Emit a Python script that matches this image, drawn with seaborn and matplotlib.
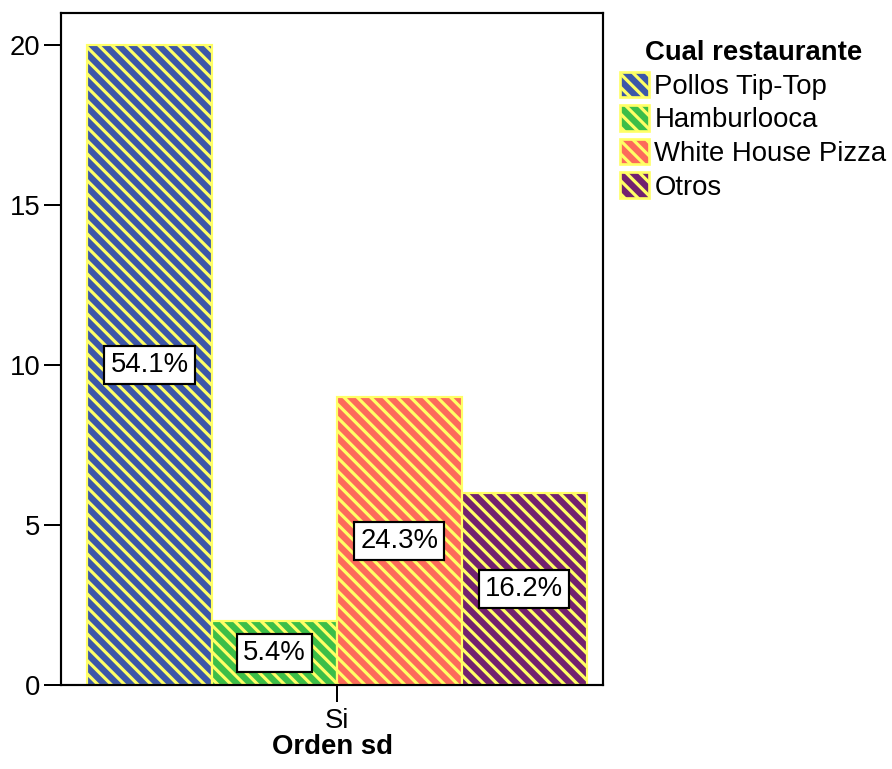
import pandas as pd
import matplotlib
matplotlib.use("Agg")
import matplotlib.pyplot as plt
import seaborn as sns
from matplotlib.patches import Patch

restaurantes = ["Pollos Tip-Top", "Hamburlooca", "White House Pizza", "Otros"]
conteos = [20, 2, 9, 6]
porcentajes = ["54.1%", "5.4%", "24.3%", "16.2%"]
colores = ["#3D57A9", "#3CBE48", "#FC6A5B", "#72216F"]
amarillo = "#FFFF66"
rayas = chr(92) * 3  # backslashes -> denser diagonal hatch

df = pd.DataFrame({"Orden sd": ["Si"] * 4,
                   "Cual restaurante": restaurantes,
                   "Conteo": conteos})

sns.set_style("white")
plt.rcParams["font.family"] = ["Liberation Sans", "DejaVu Sans"]
plt.rcParams["text.color"] = "black"
plt.rcParams["axes.labelcolor"] = "black"
plt.rcParams["xtick.color"] = "black"
plt.rcParams["ytick.color"] = "black"
plt.rcParams["hatch.color"] = amarillo
plt.rcParams["hatch.linewidth"] = 1.9

fig = plt.figure(figsize=(892 / 120, 769 / 120), dpi=120)
ax = fig.add_axes([61 / 892, 1 - 685 / 769, (603 - 61) / 892, (685 - 13) / 769])

sns.barplot(data=df, x="Orden sd", y="Conteo", hue="Cual restaurante",
            hue_order=restaurantes, palette=colores, saturation=1,
            width=0.8, legend=False, ax=ax)

for patch in ax.patches:
    patch.set_hatch(rayas)
    patch.set_edgecolor(amarillo)
    patch.set_linewidth(1.3)

for cont, txt in zip(ax.containers, porcentajes):
    ax.bar_label(cont, labels=[txt], label_type="center", fontsize=16.5,
                 bbox=dict(boxstyle="square,pad=0.22", fc="white", ec="black", lw=1.3))

ax.set_ylim(0, 21)
ax.set_xlim(-0.4417, 0.4263)
ax.set_yticks([0, 5, 10, 15, 20])
ax.set_ylabel("")
ax.set_xlabel("Orden sd", fontsize=16.5, fontweight="bold", labelpad=0)
ax.tick_params(axis="y", length=10.5, width=1.2, labelsize=16.5, pad=2, left=True, direction="out")
ax.tick_params(axis="x", length=10, width=1.2, labelsize=16.5, pad=4, bottom=True, direction="out")
for s in ax.spines.values():
    s.set_visible(True)
    s.set_color("black")
    s.set_linewidth(1.3)

handles = [Patch(facecolor=c, edgecolor=amarillo, hatch=rayas, linewidth=1.6) for c in colores]
leg = fig.legend(handles, restaurantes, title="Cual restaurante", loc="upper left",
                 bbox_to_anchor=(620 / 892, 1 - 40 / 769), frameon=False,
                 fontsize=16.5, title_fontproperties={"weight": "bold", "size": 16.5},
                 handlelength=1.05, handleheight=1.05, handletextpad=0.2,
                 labelspacing=0.2, borderaxespad=0, borderpad=0)

fig.savefig("out.png", dpi=120)
